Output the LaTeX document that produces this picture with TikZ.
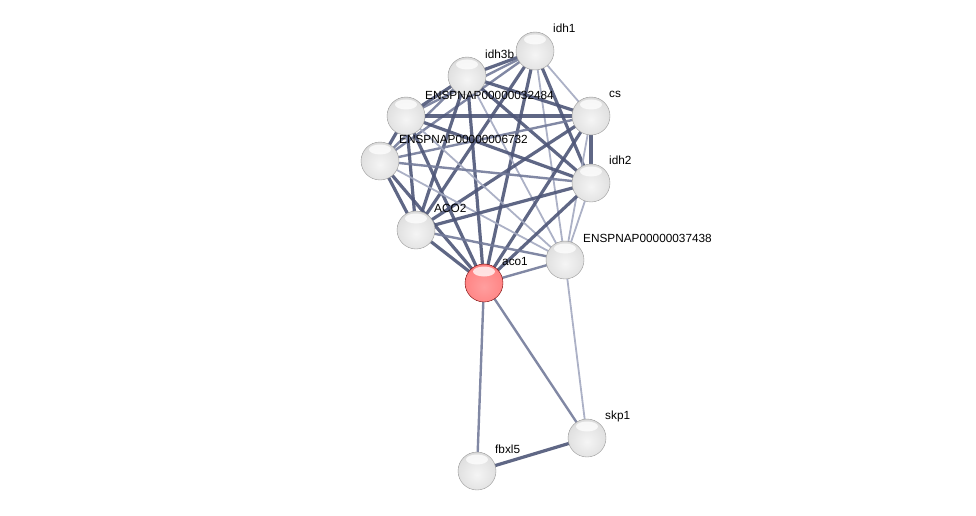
\documentclass[tikz,border=0pt]{standalone}
\usepackage{fontspec}
\setmainfont{Liberation Sans}
\usetikzlibrary{backgrounds}
\pgfdeclareradialshading{greysphere}{\pgfpoint{0bp}{-5bp}}{color(0bp)=(white!96!black); color(25bp)=(white!88!black); color(38bp)=(white!77!black); color(46bp)=(white!62!black); color(53bp)=(white!45!black); color(80bp)=(white!45!black)}
\pgfdeclareradialshading{redsphere}{\pgfpoint{0bp}{-5bp}}{color(0bp)=(red!38!white); color(25bp)=(red!48!white); color(38bp)=(red!55!white!92!black); color(46bp)=(red!62!white!78!black); color(53bp)=(red!65!black); color(80bp)=(red!65!black)}
\definecolor{edark}{HTML}{4E5678}
\definecolor{emid}{HTML}{737B9A}
\definecolor{elight}{HTML}{A3A9C0}
\tikzset{
  prot/.style={circle,minimum size=38pt,inner sep=0pt,shading=greysphere,draw=gray!80,line width=0.4pt},
  qprot/.style={circle,minimum size=38pt,inner sep=0pt,shading=redsphere,draw=red!45!black,line width=0.4pt},
  gloss/.style={fill=white,opacity=0.75},
  lab/.style={font=\fontsize{11.8}{13}\selectfont,anchor=west,inner sep=0pt},
  ethick/.style={draw=edark,line width=3.2pt,opacity=0.9},
  emed/.style={draw=emid,line width=2.4pt,opacity=0.9},
  elite/.style={draw=elight,line width=1.8pt,opacity=0.9}
}
\begin{document}
\begin{tikzpicture}[x=1pt,y=-1pt]
\useasboundingbox (0,0) rectangle (976,516);
\node[prot] (idh1) at (535,51) {};
\node[prot] (idh3b) at (467,76) {};
\node[prot] (cs) at (591,116) {};
\node[prot] (e32) at (406,116) {};
\node[prot] (e67) at (380,161) {};
\node[prot] (idh2) at (591,183) {};
\node[prot] (aco2) at (416,230) {};
\node[prot] (e37) at (565,260) {};
\node[qprot] (aco1) at (484,283) {};
\node[prot] (skp1) at (587,438) {};
\node[prot] (fbxl5) at (477,471) {};
\foreach \n in {idh1,idh3b,cs,e32,e67,idh2,aco2,e37,aco1,skp1,fbxl5}
  {\fill[gloss] ([yshift=11.5pt]\n.center) ellipse (11pt and 5pt);}
\node[lab] (l1) at (553,28) {idh1};
\node[lab] (l2) at (485,54) {idh3b};
\node[lab] (l3) at (609,94) {cs};
\node[lab] (l4) at (425,95) {ENSPNAP00000032484};
\node[lab] (l5) at (399,139) {ENSPNAP00000006732};
\node[lab] (l6) at (609,160) {idh2};
\node[lab] (l7) at (434,208) {ACO2};
\node[lab] (l8) at (583,238) {ENSPNAP00000037438};
\node[lab] (l9) at (502,261) {aco1};
\node[lab] (l10) at (605,416) {skp1};
\node[lab] (l11) at (495,449) {fbxl5};
\begin{scope}[on background layer]
\foreach \a/\b/\s in {idh1/idh3b/ethick, idh1/cs/elite, idh1/e32/emed, idh1/e67/emed, idh1/idh2/ethick, idh1/aco2/ethick, idh1/e37/elite, idh1/aco1/ethick,
 idh3b/cs/ethick, idh3b/e32/ethick, idh3b/e67/emed, idh3b/idh2/ethick, idh3b/aco2/ethick, idh3b/e37/elite, idh3b/aco1/ethick,
 cs/e32/ethick, cs/e67/emed, cs/idh2/ethick, cs/aco2/ethick, cs/e37/elite, cs/aco1/ethick,
 e32/e67/ethick, e32/idh2/ethick, e32/aco2/ethick, e32/e37/elite, e32/aco1/ethick,
 e67/idh2/emed, e67/aco2/ethick, e67/e37/elite, e67/aco1/ethick,
 idh2/aco2/ethick, idh2/e37/elite, idh2/aco1/ethick,
 aco2/e37/emed, aco2/aco1/ethick, e37/aco1/emed,
 aco1/fbxl5/emed, aco1/skp1/emed, e37/skp1/elite, skp1/fbxl5/ethick}
 {\draw[\s] (\a.center) -- (\b.center);}
\end{scope}
\end{tikzpicture}
\end{document}
